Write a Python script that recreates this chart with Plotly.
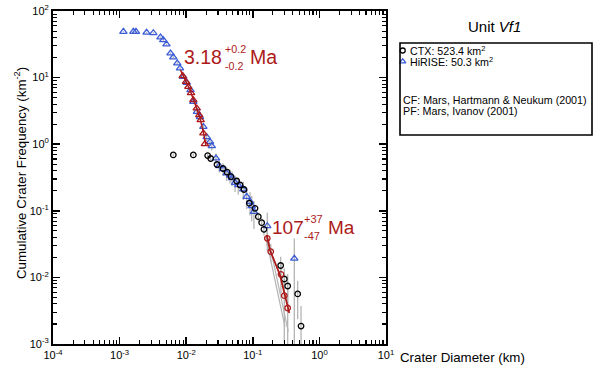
import plotly.graph_objects as go

# ---------------- data ----------------
# HiRISE cumulative crater frequencies (blue triangles)
hirise_d = [1.14e-3, 1.61e-3, 1.76e-3, 2.54e-3, 3.21e-3, 4.11e-3, 4.53e-3, 5.06e-3, 5.81e-3,
            6.40e-3, 7.34e-3, 8.07e-3, 9.04e-3, 0.0102, 0.0116, 0.0128, 0.0145, 0.0161,
            0.0181, 0.0203, 0.0228, 0.0242, 0.0280, 0.0314, 0.0357, 0.0406, 0.0455, 0.0488,
            0.0541, 0.0605, 0.0719, 0.0809, 0.0908, 0.0962, 0.104, 0.165, 0.420]
hirise_n = [48.9, 48.9, 48.9, 47.5, 46.8, 40.3, 36.7, 31.6, 23.2,
            20.2, 16.4, 13.8, 10.3, 8.38, 6.51, 4.35, 3.08, 2.56,
            1.83, 1.28, 1.09, 0.94, 0.614, 0.471, 0.425, 0.366, 0.339, 0.311,
            0.264, 0.244, 0.210, 0.163, 0.137, 0.118, 0.0969, 0.0592, 0.0192]
hirise_err = [0.986, 0.986, 0.986, 0.972, 0.965, 0.895, 0.854, 0.793, 0.679,
              0.634, 0.571, 0.524, 0.453, 0.408, 0.360, 0.294, 0.247, 0.226,
              0.191, 0.160, 0.147, 0.137, 0.110, 0.0967, 0.0919, 0.0853, 0.082, 0.0787,
              0.0724, 0.0696, 0.0645, 0.0569, 0.0522, 0.0484, 0.0436, 0.0342, 0.0192]

# CTX cumulative crater frequencies (black circles)
ctx_d = [6.40e-3, 0.0128, 0.0210, 0.0233, 0.0290, 0.0357, 0.0410, 0.0471, 0.0573, 0.0643,
         0.0738, 0.0886, 0.108, 0.121, 0.136, 0.147, 0.262, 0.297, 0.334, 0.472, 0.530]
ctx_n = [0.689, 0.689, 0.676, 0.610, 0.496, 0.432, 0.382, 0.327, 0.280, 0.244,
         0.209, 0.130, 0.109, 0.0815, 0.0663, 0.0527, 0.0151, 9.46e-3, 7.43e-3, 5.64e-3, 1.86e-3]
ctx_err = [0.0363, 0.0363, 0.0359, 0.0341, 0.0308, 0.0287, 0.0270, 0.0250, 0.0231, 0.0216,
           0.0200, 0.0158, 0.0144, 0.0125, 0.0113, 0.0100, 0.00537, 0.00425, 0.00377, 0.00328, 0.00186]

# CTX points used in the young fit (red circles)
fitc_d = [0.165, 0.186, 0.265, 0.297, 0.334]
fitc_n = [0.0386, 0.0243, 0.01114, 5.31e-3, 3.47e-3]
fitc_err = [0.0090, 0.0074, 0.00537, 0.00425, 0.00377]

# HiRISE points used in the old fit (red triangles)
fitt_d = [8.85e-3, 9.93e-3, 0.01076, 0.0118, 0.0128, 0.0144, 0.0157, 0.0165, 0.0181, 0.0191]
fitt_n = [10.6, 8.67, 7.29, 5.88, 4.61, 3.46, 2.74, 2.31, 1.46, 1.01]

# fitted isochrons
iso_old_d = [8.20e-3, 9.59e-3, 0.0114, 0.0136, 0.0161, 0.0185, 0.0198]
iso_old_n = [13.0, 9.53, 6.51, 4.02, 2.47, 1.37, 0.94]
iso_young_d = [0.162, 0.181, 0.256, 0.304, 0.353]
iso_young_n = [0.0434, 0.0258, 0.01086, 5.44e-3, 2.92e-3]

# grey bounding lines of the young fit
grey1_d = [0.156, 0.304]
grey1_n = [0.0408, 1.82e-3]
grey2_d = [0.171, 0.341]
grey2_n = [0.0386, 1.53e-3]

x_tick_vals = [1e-4, 1e-3, 1e-2, 1e-1, 1e0, 1e1]
x_tick_text = ["10<sup>-4</sup>", "10<sup>-3</sup>", "10<sup>-2</sup>", "10<sup>-1</sup>",
               "10<sup>0</sup>", "10<sup>1</sup>"]
y_tick_vals = [1e-3, 1e-2, 1e-1, 1e0, 1e1, 1e2]
y_tick_text = ["10<sup>-3</sup>", "10<sup>-2</sup>", "10<sup>-1</sup>", "10<sup>0</sup>",
               "10<sup>1</sup>", "10<sup>2</sup>"]

# ---------------- styling ----------------
W, H = 594, 367
RED = "#ad1a1a"
BLUE = "#3b5bd6"
GREY = "#b4b4b4"
FONT = "Liberation Sans, Arial, Helvetica, sans-serif"


def px(x):
    """window pixel x -> paper coordinate"""
    return x / W


def py(y):
    """window pixel y -> paper coordinate"""
    return 1 - y / H


x_minor = [k * 10 ** e for e in range(-4, 1) for k in range(2, 10)]
y_minor = [k * 10 ** e for e in range(-3, 2) for k in range(2, 10)]

fig = go.Figure()


def err_trace(d, n, e):
    return go.Scatter(
        x=d, y=n, mode="markers", marker=dict(size=1, opacity=0),
        error_y=dict(type="data", symmetric=False, array=e, arrayminus=e,
                     color=GREY, thickness=1.3, width=0),
        hoverinfo="skip", showlegend=False)


# error bars first (behind the markers)
fig.add_trace(err_trace(ctx_d, ctx_n, ctx_err))
fig.add_trace(err_trace(hirise_d, hirise_n, hirise_err))
fig.add_trace(err_trace(fitc_d, fitc_n, fitc_err))

fig.add_trace(go.Scatter(x=grey1_d, y=grey1_n, mode="lines",
                         line=dict(color=GREY, width=1.2), showlegend=False))
fig.add_trace(go.Scatter(x=grey2_d, y=grey2_n, mode="lines",
                         line=dict(color=GREY, width=1.2), showlegend=False))

fig.add_trace(go.Scatter(x=hirise_d, y=hirise_n, mode="markers",
                         marker=dict(symbol="triangle-up-open", size=6.5, color=BLUE,
                                     line=dict(width=1.3, color=BLUE)),
                         showlegend=False))
fig.add_trace(go.Scatter(x=ctx_d, y=ctx_n, mode="markers",
                         marker=dict(symbol="circle-open", size=5.5, color="black",
                                     line=dict(width=1.3, color="black")),
                         showlegend=False))

fig.add_trace(go.Scatter(x=iso_old_d, y=iso_old_n, mode="lines",
                         line=dict(color=RED, width=1.5), showlegend=False))
fig.add_trace(go.Scatter(x=iso_young_d, y=iso_young_n, mode="lines",
                         line=dict(color=RED, width=1.8), showlegend=False))

fig.add_trace(go.Scatter(x=fitt_d, y=fitt_n, mode="markers",
                         marker=dict(symbol="triangle-up-open", size=6.5, color=RED,
                                     line=dict(width=1.3, color=RED)),
                         showlegend=False))
fig.add_trace(go.Scatter(x=fitc_d, y=fitc_n, mode="markers",
                         marker=dict(symbol="circle-open", size=5.5, color=RED,
                                     line=dict(width=1.3, color=RED)),
                         showlegend=False))

# legend markers (window-pixel overlay axes)
fig.add_trace(go.Scatter(x=[402.7], y=[50.5], xaxis="x2", yaxis="y2", mode="markers",
                         marker=dict(symbol="circle-open", size=5, color="black",
                                     line=dict(width=1.3, color="black")),
                         showlegend=False, hoverinfo="skip"))
fig.add_trace(go.Scatter(x=[402.7], y=[61.5], xaxis="x2", yaxis="y2", mode="markers",
                         marker=dict(symbol="triangle-up-open", size=5.5, color=BLUE,
                                     line=dict(width=1.3, color=BLUE)),
                         showlegend=False, hoverinfo="skip"))

axis_common = dict(type="log", showgrid=False, zeroline=False, showline=True,
                   automargin=False, ticklabeloverflow="allow",
                   linecolor="black", linewidth=2, mirror="allticks",
                   ticks="inside", ticklen=7, tickwidth=1.6, tickcolor="black",
                   tickfont=dict(size=11, family=FONT, color="black"))

fig.update_layout(
    template="none",
    width=W, height=H, margin=dict(l=0, r=0, t=0, b=0, pad=0), autosize=False,
    paper_bgcolor="white", plot_bgcolor="rgba(0,0,0,0)",
    showlegend=False, font=dict(family=FONT, color="black"),
    xaxis=dict(range=[-4, 1], domain=[px(53), px(386)], anchor="y",
               tickmode="array", tickvals=x_tick_vals, ticktext=x_tick_text,
               minor=dict(tickmode="array", tickvals=x_minor, ticks="inside", ticklen=4,
                          tickwidth=1.1, tickcolor="black", showgrid=False),
               **axis_common),
    yaxis=dict(range=[-3, 2], domain=[py(344), py(11)], anchor="x",
               tickmode="array", tickvals=y_tick_vals, ticktext=y_tick_text,
               minor=dict(tickmode="array", tickvals=y_minor, ticks="inside", ticklen=4,
                          tickwidth=1.1, tickcolor="black", showgrid=False),
               **axis_common),
    xaxis2=dict(domain=[0, 1], range=[0, W], anchor="y2", visible=False,
                automargin=False),
    yaxis2=dict(domain=[0, 1], range=[H, 0], anchor="x2", visible=False,
                automargin=False),
)

# legend box
fig.add_shape(type="rect", xref="paper", yref="paper",
              x0=px(400), x1=px(592), y0=py(135), y1=py(43),
              line=dict(color="black", width=1.6), fillcolor="rgba(0,0,0,0)")


def ann(x, y, text, size, color="black", xanchor="left", angle=0):
    fig.add_annotation(x=px(x), y=py(y), xref="paper", yref="paper", text=text,
                       showarrow=False, xanchor=xanchor, yanchor="middle",
                       textangle=angle, font=dict(size=size, color=color, family=FONT))


ann(494, 27, "Unit <i>Vf1</i>", 15, xanchor="center")
ann(407.5, 50.5, "CTX: 523.4 km<sup>2</sup>", 10.7)
ann(407.5, 61.5, "HiRISE: 50.3 km<sup>2</sup>", 10.7)
ann(401, 100, "CF: Mars, Hartmann &amp; Neukum (2001)", 10.7)
ann(401, 111, "PF: Mars, Ivanov (2001)", 10.7)

# axis titles
ann(20, 173, "Cumulative Crater Frequency (km<sup>-2</sup>)", 13.3, xanchor="center", angle=-90)
ann(398, 357, "Crater Diameter (km)", 13.3)

# age labels
ann(182, 57, "3.18", 19.5, color=RED)
ann(223, 48.5, "+0.2", 10.7, color=RED)
ann(223, 65.5, "-0.2", 10.7, color=RED)
ann(248, 57, "Ma", 19.5, color=RED)

ann(270, 227.5, "107", 19, color=RED)
ann(302, 219, "+37", 11, color=RED)
ann(302, 236, "-47", 11, color=RED)
ann(326, 227.5, "Ma", 19, color=RED)

# the page body has a default 8px margin: remove it so the figure fills the window
fig.write_html(
    "out.html",
    config={"displayModeBar": False, "staticPlot": True},
    post_script="document.body.style.margin='0';document.body.style.overflow='hidden';",
)
